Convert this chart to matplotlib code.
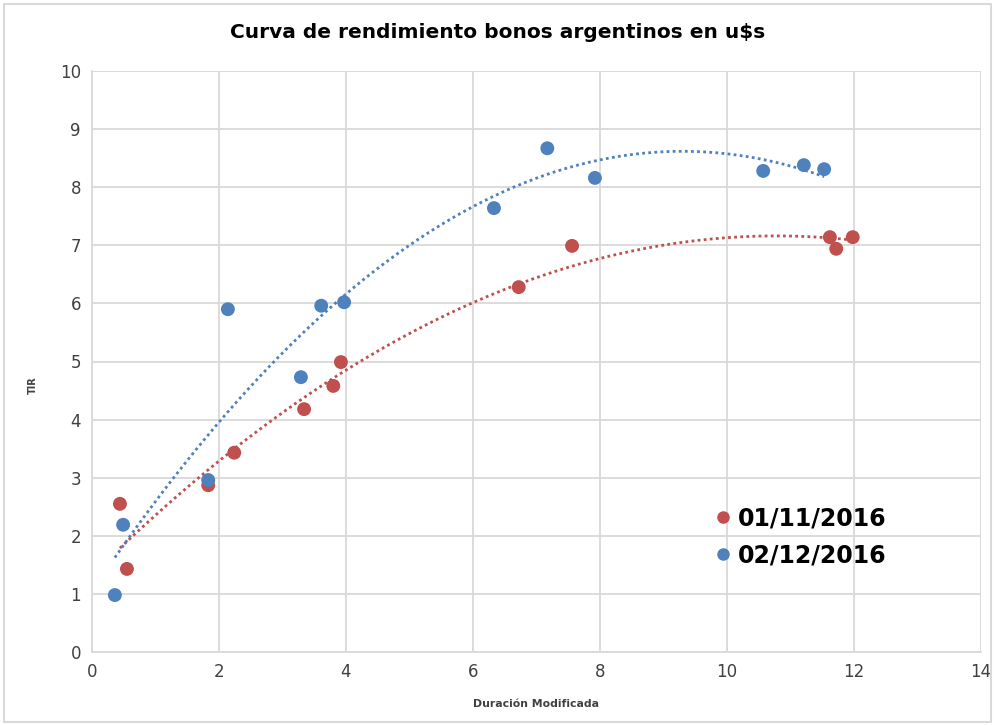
import numpy as np
import matplotlib
matplotlib.use("Agg")
import matplotlib.pyplot as plt
from matplotlib.lines import Line2D
from matplotlib.patches import Rectangle

title = "Curva de rendimiento bonos argentinos en u$s"
xlabel = "Duración Modificada"
ylabel = "TIR"

series_names = ["01/11/2016", "02/12/2016"]
colors = ["#C0504D", "#4F81BD"]

x_nov = [0.44, 0.55, 1.83, 2.24, 3.34, 3.80, 3.92, 6.72, 7.56, 11.62, 11.72, 11.98]
y_nov = [2.55, 1.43, 2.87, 3.43, 4.18, 4.58, 4.99, 6.28, 6.99, 7.14, 6.94, 7.14]

x_dec = [0.36, 0.49, 1.83, 2.14, 3.29, 3.61, 3.97, 6.33, 7.17, 7.92, 10.57, 11.21, 11.53]
y_dec = [0.98, 2.19, 2.96, 5.90, 4.73, 5.96, 6.02, 7.64, 8.67, 8.16, 8.28, 8.38, 8.31]

xticks = [0, 2, 4, 6, 8, 10, 12, 14]
yticks = [0, 1, 2, 3, 4, 5, 6, 7, 8, 9, 10]

fig = plt.figure(figsize=(9.95, 7.25), dpi=100)
ax = fig.add_axes([92/995, 1-652/725, (981-92)/995, (652-71)/725])

# chart area border
fig.patches.append(Rectangle((0.004, 0.004), 0.992, 0.99, transform=fig.transFigure,
                             fill=False, edgecolor="#D9D9D9", linewidth=1.5))

data = [(x_nov, y_nov), (x_dec, y_dec)]
for (xs, ys), c in zip(data, colors):
    xs = np.array(xs); ys = np.array(ys)
    # trendline (polynomial order 2)
    coef = np.polyfit(xs, ys, 2)
    xx = np.linspace(xs.min(), xs.max(), 200)
    ax.plot(xx, np.polyval(coef, xx), linestyle=(0, (1, 1.2)), color=c, linewidth=2.0, zorder=2)
    ax.scatter(xs, ys, s=100, color=c, edgecolors="none", zorder=3)

ax.set_xlim(0, 14)
ax.set_ylim(0, 10)
ax.set_xticks(xticks)
ax.set_yticks(yticks)
ax.grid(True, color="#D9D9D9", linewidth=1.3)
ax.set_axisbelow(True)
for s in ["top", "right"]:
    ax.spines[s].set_visible(False)
for s in ["left", "bottom"]:
    ax.spines[s].set_color("#D9D9D9")
    ax.spines[s].set_linewidth(1.3)
ax.tick_params(length=0, labelsize=12, colors="#404040", pad=8)
for lbl in ax.get_xticklabels() + ax.get_yticklabels():
    lbl.set_color("#404040")

fig.text(0.5, 1-33/725, title, ha="center", va="center", fontsize=14.5,
         fontweight="bold", family=["Liberation Sans Narrow", "DejaVu Sans"], color="#000000")
fig.text(536/995, 1-704/725, xlabel, ha="center", va="center", fontsize=7.8,
         fontweight="bold", color="#404040")
fig.text(33/995, 1-385/725, ylabel, ha="center", va="center", fontsize=7,
         fontweight="bold", rotation=90, color="#404040")

handles = [Line2D([], [], marker="o", linestyle="none", color=c, markersize=8) for c in colors]
leg = ax.legend(handles, series_names, loc="upper left",
                bbox_to_anchor=((702-92)/889, 1-(497-71)/581),
                frameon=False, prop={"weight": "bold", "size": 17},
                handletextpad=0.1, labelspacing=0.55, handlelength=1.0, borderaxespad=0)

fig.savefig("out.png", dpi=100, facecolor="white")
